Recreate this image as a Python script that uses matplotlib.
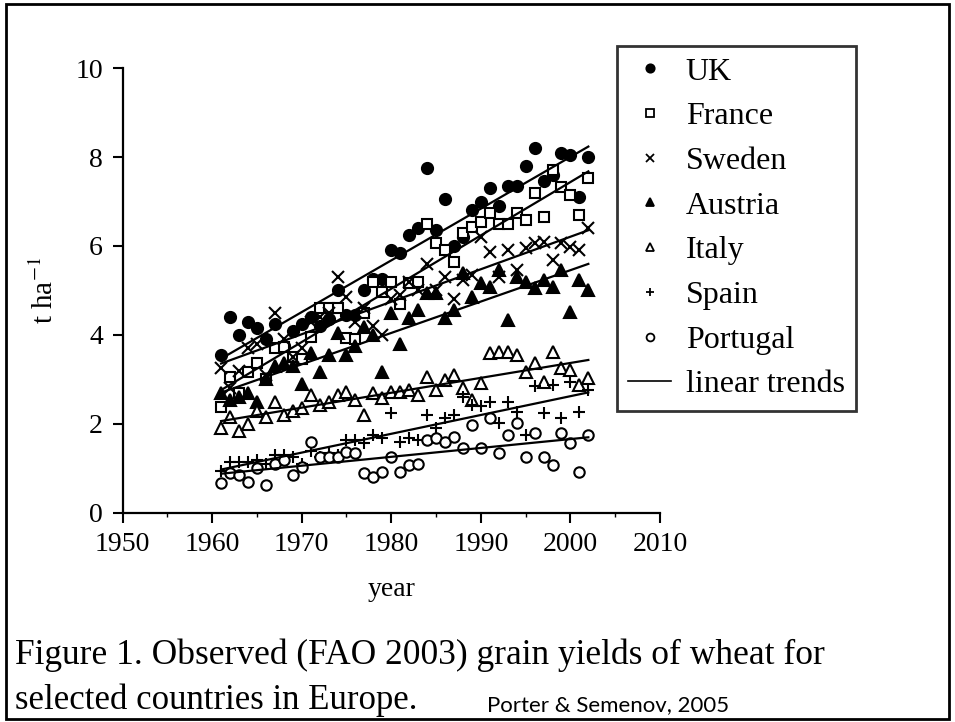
import numpy as np
import matplotlib.pyplot as plt
from matplotlib.lines import Line2D
from matplotlib.patches import Rectangle

# FAO wheat yields (t/ha)
years = list(range(1961, 2003))

uk = [3.55, 4.40, 4.00, 4.30, 4.15, 3.90, 4.25, 3.75, 4.10, 4.25,
      4.40, 4.20, 4.35, 5.00, 4.45, 4.45, 5.00, 5.25, 5.25, 5.90,
      5.85, 6.25, 6.40, 7.75, 6.35, 7.05, 6.00, 6.20, 6.80, 7.00,
      7.30, 6.90, 7.35, 7.35, 7.80, 8.20, 7.45, 7.60, 8.10, 8.05,
      7.10, 8.00]
france = [2.38, 3.06, 2.70, 3.17, 3.37, 3.00, 3.70, 3.73, 3.50, 3.45,
          3.95, 4.60, 4.60, 4.60, 3.93, 3.90, 4.50, 5.20, 4.97, 5.20,
          4.70, 5.17, 5.19, 6.50, 6.06, 5.90, 5.63, 6.30, 6.43, 6.54,
          6.74, 6.50, 6.50, 6.74, 6.58, 7.18, 6.65, 7.70, 7.33, 7.15,
          6.69, 7.53]
sweden = [3.25, 2.80, 3.20, 3.70, 3.80, 3.10, 4.50, 3.90, 3.50, 3.70,
          4.30, 4.40, 4.50, 5.30, 4.85, 4.30, 4.60, 4.20, 4.00, 4.80,
          4.90, 5.20, 5.00, 5.60, 5.00, 5.30, 4.80, 5.24, 5.35, 6.20,
          5.87, 5.30, 5.90, 5.46, 5.95, 6.07, 6.10, 5.69, 6.07, 5.98,
          5.90, 6.40]
austria = [2.70, 2.55, 2.60, 2.70, 2.50, 3.00, 3.30, 3.37, 3.30, 2.90,
           3.60, 3.17, 3.55, 4.05, 3.55, 3.75, 4.18, 4.00, 3.17, 4.50,
           3.80, 4.38, 4.56, 4.94, 4.94, 4.38, 4.56, 5.39, 4.85, 5.17,
           5.08, 5.46, 4.34, 5.30, 5.19, 5.06, 5.24, 5.08, 5.46, 4.52,
           5.24, 5.00]
italy = [1.90, 2.16, 1.85, 2.00, 2.30, 2.16, 2.50, 2.20, 2.30, 2.36,
         2.65, 2.43, 2.50, 2.65, 2.72, 2.54, 2.20, 2.70, 2.58, 2.72,
         2.72, 2.76, 2.65, 3.06, 2.76, 2.99, 3.10, 2.80, 2.54, 2.92,
         3.60, 3.62, 3.62, 3.55, 3.17, 3.37, 2.94, 3.62, 3.26, 3.21,
         2.88, 3.03]
spain = [0.95, 1.15, 1.15, 1.15, 1.20, 1.10, 1.30, 1.30, 1.25, 1.10,
         1.40, 1.25, 1.35, 1.30, 1.65, 1.64, 1.57, 1.75, 1.68, 2.25,
         1.60, 1.68, 1.64, 2.20, 1.90, 2.13, 2.20, 2.60, 2.43, 2.40,
         2.50, 2.02, 2.50, 2.27, 1.75, 2.85, 2.25, 2.88, 2.13, 2.95,
         2.27, 2.76]
portugal = [0.67, 0.90, 0.85, 0.70, 1.00, 0.63, 1.10, 1.20, 0.85, 1.03,
            1.60, 1.26, 1.26, 1.26, 1.37, 1.35, 0.90, 0.81, 0.92, 1.26,
            0.92, 1.08, 1.10, 1.64, 1.69, 1.60, 1.71, 1.46, 1.98, 1.46,
            2.13, 1.35, 1.75, 2.02, 1.26, 1.80, 1.26, 1.08, 1.80, 1.57,
            0.92, 1.75]

countries = ["UK", "France", "Sweden", "Austria", "Italy", "Spain", "Portugal"]
values = [uk, france, sweden, austria, italy, spain, portugal]
# marker, face colour, size
styles = [("o", "k", 8), ("s", "white", 7.5), ("x", "k", 8),
          ("^", "k", 8.5), ("^", "white", 8.5), ("+", "k", 8.5), ("o", "white", 7.5)]

plt.rcParams["font.family"] = ["Liberation Serif", "DejaVu Serif"]
plt.rcParams["mathtext.fontset"] = "stix"

fig = plt.figure(figsize=(9.55, 7.22), dpi=100)
ax = fig.add_axes([0.1283, 0.2895, 0.5628, 0.6163])

yr = np.array(years, dtype=float)
for vals, (marker, face, ms) in zip(values, styles):
    ax.plot(yr, vals, linestyle="none", marker=marker, mfc=face, mec="k",
            ms=ms, mew=1.5, zorder=3)
    k, b = np.polyfit(yr, vals, 1)
    ends = np.array([yr[0], yr[-1]])
    ax.plot(ends, k * ends + b, color="k", lw=1.6, zorder=4)

ax.set_xlim(1950, 2010)
ax.set_ylim(0, 10)
ax.set_xticks(range(1950, 2011, 10))
ax.set_xticks(range(1955, 2010, 10), minor=True)
ax.set_yticks(range(0, 11, 2))
for side in ["top", "right"]:
    ax.spines[side].set_visible(False)
for side in ["left", "bottom"]:
    ax.spines[side].set_linewidth(1.6)
ax.tick_params(which="major", direction="out", length=7, width=1.5,
               labelsize=20, pad=7)
ax.tick_params(which="minor", direction="out", length=3, width=1.0)
ax.set_xlabel("year", fontsize=20, labelpad=14)
ax.set_ylabel(r"t ha$^{-1}$", fontsize=21, labelpad=12)

handles = [Line2D([], [], linestyle="none", marker=m, mfc=f, mec="k",
                  ms=s * 0.75, mew=1.3) for m, f, s in styles]
handles.append(Line2D([], [], color="k", lw=1.2))
labels = countries + ["linear trends"]
leg = fig.legend(handles, labels, loc="upper left",
                 bbox_to_anchor=(617 / 955, 1 - 46 / 722),
                 bbox_transform=fig.transFigure, frameon=True,
                 fancybox=False, fontsize=23, handlelength=1.35,
                 handletextpad=0.45, labelspacing=0.48, borderpad=0.35,
                 borderaxespad=0)
leg.get_frame().set_edgecolor("k")
leg.get_frame().set_linewidth(2.0)

fig.text(15 / 955, 1 - 655 / 722,
         "Figure 1. Observed (FAO 2003) grain yields of wheat for",
         fontsize=25.5, va="center", ha="left")
fig.text(15 / 955, 1 - 700 / 722, "selected countries in Europe.",
         fontsize=25, va="center", ha="left")
fig.text(487 / 955, 1 - 705 / 722, "Porter & Semenov, 2005",
         fontsize=16, va="center", ha="left", family=["Lato", "DejaVu Sans"])

fig.patches.append(Rectangle((0.006, 0.004), 0.988, 0.99,
                             transform=fig.transFigure, fill=False,
                             edgecolor="k", lw=2.0))

fig.savefig("out.png", dpi=100)
